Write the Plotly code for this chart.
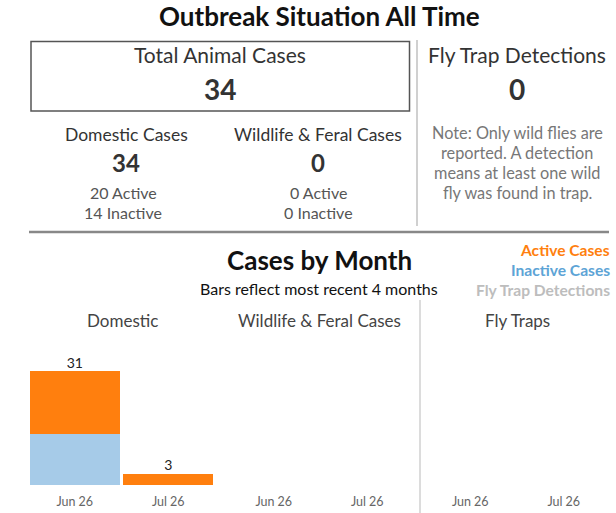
import plotly.graph_objects as go

W, H = 616, 513

months = ["Jun 26", "Jul 26"]
dom_active = [17, 3]
dom_inactive = [14, 0]
wild_active = [0, 0]
wild_inactive = [0, 0]
fly_traps = [0, 0]

total_cases = 34
domestic_cases = 34
domestic_active = 20
domestic_inactive = 14
wildlife_cases = 0
wildlife_active = 0
wildlife_inactive = 0
fly_detections = 0

ORANGE = "#FF7F0E"
BLUE_BAR = "#A6CBE8"
BLUE_TXT = "#5DA4D6"
GRAY_TXT = "#BDBDBD"
FONT = "Lato"

def px(x):
    return x / W

def py(y):
    return 1 - y / H

fig = go.Figure()

ymax = 31 * 145 / 114
panels = [("x", "y", dom_active, dom_inactive),
          ("x2", "y2", wild_active, wild_inactive),
          ("x3", "y3", fly_traps, [0, 0])]
for xa, ya, act, inact in panels:
    fig.add_trace(go.Bar(x=months, y=inact, marker_color=BLUE_BAR, xaxis=xa, yaxis=ya,
                         marker_line_width=0, showlegend=False, hoverinfo="skip"))
    fig.add_trace(go.Bar(x=months, y=act, marker_color=ORANGE, xaxis=xa, yaxis=ya,
                         marker_line_width=0, showlegend=False, hoverinfo="skip"))
    totals = [a + b for a, b in zip(act, inact)]
    fig.add_trace(go.Scatter(x=[m for m, t in zip(months, totals) if t > 0],
                             y=[t for t in totals if t > 0],
                             text=[str(t) for t in totals if t > 0],
                             mode="text", textposition="top center",
                             textfont=dict(family=FONT, size=14, color="#222"),
                             xaxis=xa, yaxis=ya, showlegend=False, hoverinfo="skip",
                             cliponaxis=False))

ydom = [py(485), py(340)]
xdoms = [[px(28), px(215)], [px(227), px(414)], [px(423.5), px(610.5)]]
axis_common = dict(showgrid=False, zeroline=False, showline=False, ticks="",
                   tickfont=dict(family=FONT, size=12.5, color="#666"),
                   ticklabelstandoff=7, fixedrange=True)
yaxis_common = dict(showgrid=False, zeroline=False, showline=False, showticklabels=False,
                    range=[0, ymax], fixedrange=True)
layout = dict(
    width=W, height=H, margin=dict(l=0, r=0, t=0, b=0),
    paper_bgcolor="white", plot_bgcolor="white",
    barmode="stack", bargap=0.04, showlegend=False,
    font=dict(family=FONT, color="#333"),
)
for i, (xd) in enumerate(xdoms):
    sfx = "" if i == 0 else str(i + 1)
    layout["xaxis" + sfx] = dict(domain=xd, anchor="y" + sfx, **axis_common)
    layout["yaxis" + sfx] = dict(domain=ydom, anchor="x" + sfx, **yaxis_common)
fig.update_layout(**layout)

def ann(text, x, y, size, color="#333", bold=False, xanchor="center"):
    t = f"<b>{text}</b>" if bold else text
    fig.add_annotation(text=t, x=px(x), y=py(y), xref="paper", yref="paper",
                       xanchor=xanchor, yanchor="middle", showarrow=False,
                       font=dict(family=FONT, size=size, color=color))

ann("Outbreak Situation All Time", 319, 16, 26, "#111", True)
ann("Total Animal Cases", 220, 55, 21, "#333")
ann(str(total_cases), 220, 89, 28, "#333", True)
ann("Fly Trap Detections", 517, 55, 21, "#333")
ann(str(fly_detections), 517, 89, 28, "#333", True)
ann("Domestic Cases", 126, 135, 17.5, "#333")
ann(str(domestic_cases), 126, 163, 24, "#333", True)
ann(f"{domestic_active} Active", 123, 192, 16, "#555")
ann(f"{domestic_inactive} Inactive", 123, 212, 16, "#555")
ann("Wildlife & Feral Cases", 318, 135, 17.5, "#333")
ann(str(wildlife_cases), 318, 163, 24, "#333", True)
ann(f"{wildlife_active} Active", 318, 192, 16, "#555")
ann(f"{wildlife_inactive} Inactive", 318, 212, 16, "#555")
note_lines = ["Note: Only wild flies are", "reported. A detection",
              "means at least one wild", "fly was found in trap."]
for k, line in enumerate(note_lines):
    ann(line, 517, 132 + 20 * k, 16.3, "#777")

ann("Cases by Month", 319, 260, 26, "#111", True)
ann("Bars reflect most recent 4 months", 319, 288, 16, "#111")
ann("Active Cases", 612, 250, 15.6, ORANGE, True, "right")
ann("Inactive Cases", 612, 270, 15.6, BLUE_TXT, True, "right")
ann("Fly Trap Detections", 612, 290, 15.6, GRAY_TXT, True, "right")
ann("Domestic", 122, 320, 17, "#444")
ann("Wildlife & Feral Cases", 320, 320, 17, "#444")
ann("Fly Traps", 517, 320, 17, "#444")

def line(x0, y0, x1, y1, color, width):
    fig.add_shape(type="line", xref="paper", yref="paper",
                  x0=px(x0), y0=py(y0), x1=px(x1), y1=py(y1),
                  line=dict(color=color, width=width))

fig.add_shape(type="rect", xref="paper", yref="paper",
              x0=px(31), y0=py(41.5), x1=px(409.5), y1=py(111),
              line=dict(color="#555", width=1.5))
line(417, 40, 417, 226, "#D0D0D0", 2)
line(29, 232, 609, 232, "#888", 2.5)
line(420, 300, 420, 513, "#D0D0D0", 1.5)

fig.write_html("out.html")
